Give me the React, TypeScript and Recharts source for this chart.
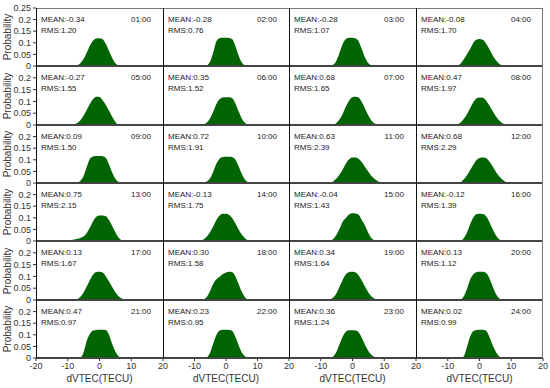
import React from "react";
import { AreaChart, Area, XAxis, YAxis } from "recharts";

// dVTEC bin centres (TECU) shared by all 24 hourly histograms
const dvtecBins = [-10, -9, -8, -7, -6, -5, -4, -3, -2, -1, 0, 1, 2, 3, 4, 5, 6, 7, 8, 9, 10];

const hourLabels = [
  "01:00", "02:00", "03:00", "04:00", "05:00", "06:00", "07:00", "08:00",
  "09:00", "10:00", "11:00", "12:00", "13:00", "14:00", "15:00", "16:00",
  "17:00", "18:00", "19:00", "20:00", "21:00", "22:00", "23:00", "24:00",
];

const meanValues = [
  -0.34, -0.28, -0.28, -0.08, -0.27, 0.35, 0.68, 0.47,
  0.09, 0.72, 0.63, 0.68, 0.75, -0.13, -0.04, -0.12,
  0.13, 0.3, 0.34, 0.13, 0.47, 0.23, 0.36, 0.02,
];

const rmsValues = [
  1.2, 0.76, 1.07, 1.7, 1.55, 1.52, 1.65, 1.97,
  1.5, 1.91, 2.39, 2.29, 2.15, 1.75, 1.43, 1.39,
  1.67, 1.58, 1.64, 1.12, 0.97, 0.95, 1.24, 0.99,
];

// probability per bin, one row per hour
const probabilities = [
  [0, 0, 0, 0.003, 0.012, 0.03, 0.058, 0.088, 0.11, 0.119, 0.12, 0.115, 0.095, 0.065, 0.035, 0.012, 0.002, 0, 0, 0, 0],
  [0, 0, 0, 0, 0.003, 0.02, 0.06, 0.108, 0.12, 0.122, 0.122, 0.121, 0.115, 0.085, 0.045, 0.015, 0.003, 0, 0, 0, 0],
  [0, 0, 0, 0.001, 0.006, 0.025, 0.06, 0.098, 0.117, 0.122, 0.122, 0.118, 0.105, 0.07, 0.035, 0.012, 0.003, 0, 0, 0, 0],
  [0, 0, 0, 0.002, 0.01, 0.028, 0.05, 0.072, 0.098, 0.113, 0.116, 0.113, 0.098, 0.075, 0.05, 0.028, 0.012, 0.003, 0, 0, 0],
  [0, 0, 0.002, 0.008, 0.02, 0.04, 0.065, 0.09, 0.11, 0.12, 0.119, 0.105, 0.085, 0.06, 0.035, 0.013, 0.002, 0, 0, 0, 0],
  [0, 0, 0, 0.003, 0.012, 0.03, 0.058, 0.09, 0.11, 0.117, 0.118, 0.118, 0.113, 0.09, 0.058, 0.028, 0.01, 0.002, 0, 0, 0],
  [0, 0, 0, 0, 0.002, 0.01, 0.025, 0.05, 0.08, 0.105, 0.118, 0.12, 0.115, 0.095, 0.068, 0.04, 0.018, 0.006, 0.001, 0, 0],
  [0, 0, 0, 0.003, 0.01, 0.025, 0.045, 0.07, 0.095, 0.112, 0.117, 0.115, 0.105, 0.085, 0.062, 0.04, 0.022, 0.01, 0.003, 0, 0],
  [0, 0, 0, 0.002, 0.01, 0.03, 0.07, 0.105, 0.114, 0.116, 0.116, 0.115, 0.108, 0.08, 0.045, 0.018, 0.004, 0, 0, 0, 0],
  [0, 0, 0, 0.002, 0.008, 0.022, 0.05, 0.085, 0.105, 0.112, 0.113, 0.113, 0.111, 0.1, 0.072, 0.04, 0.015, 0.003, 0, 0, 0],
  [0, 0, 0, 0.001, 0.008, 0.02, 0.038, 0.06, 0.085, 0.103, 0.11, 0.11, 0.103, 0.088, 0.068, 0.048, 0.03, 0.017, 0.008, 0.002, 0],
  [0, 0, 0, 0, 0.003, 0.015, 0.032, 0.055, 0.078, 0.098, 0.108, 0.11, 0.108, 0.095, 0.075, 0.052, 0.032, 0.017, 0.007, 0.002, 0],
  [0, 0.003, 0.006, 0.01, 0.013, 0.02, 0.035, 0.058, 0.085, 0.104, 0.11, 0.11, 0.107, 0.09, 0.065, 0.038, 0.015, 0.003, 0, 0, 0],
  [0, 0, 0.002, 0.008, 0.02, 0.04, 0.065, 0.092, 0.11, 0.117, 0.117, 0.112, 0.098, 0.075, 0.05, 0.028, 0.012, 0.003, 0, 0, 0],
  [0, 0, 0, 0.002, 0.01, 0.028, 0.055, 0.085, 0.1, 0.115, 0.12, 0.118, 0.112, 0.088, 0.065, 0.035, 0.012, 0.003, 0, 0, 0],
  [0, 0, 0, 0, 0.001, 0.012, 0.035, 0.07, 0.1, 0.115, 0.117, 0.116, 0.108, 0.085, 0.055, 0.028, 0.01, 0.002, 0, 0, 0],
  [0, 0, 0, 0.004, 0.014, 0.032, 0.058, 0.085, 0.108, 0.119, 0.12, 0.116, 0.1, 0.078, 0.055, 0.033, 0.016, 0.006, 0.001, 0, 0],
  [0, 0, 0, 0.004, 0.015, 0.04, 0.07, 0.088, 0.098, 0.11, 0.117, 0.12, 0.118, 0.1, 0.068, 0.035, 0.012, 0.002, 0, 0, 0],
  [0, 0, 0, 0.003, 0.012, 0.03, 0.058, 0.088, 0.11, 0.119, 0.12, 0.117, 0.103, 0.08, 0.055, 0.032, 0.015, 0.005, 0.001, 0, 0],
  [0, 0, 0, 0, 0.002, 0.015, 0.045, 0.085, 0.108, 0.118, 0.12, 0.12, 0.115, 0.095, 0.062, 0.03, 0.01, 0.002, 0, 0, 0],
  [0, 0, 0, 0, 0.002, 0.025, 0.075, 0.105, 0.118, 0.121, 0.122, 0.122, 0.121, 0.1, 0.06, 0.028, 0.008, 0.001, 0, 0, 0],
  [0, 0, 0, 0, 0.004, 0.025, 0.065, 0.1, 0.118, 0.122, 0.122, 0.121, 0.116, 0.09, 0.055, 0.025, 0.008, 0.001, 0, 0, 0],
  [0, 0, 0, 0.001, 0.008, 0.028, 0.062, 0.095, 0.114, 0.12, 0.12, 0.119, 0.11, 0.085, 0.055, 0.03, 0.013, 0.004, 0.001, 0, 0],
  [0, 0, 0, 0, 0, 0.006, 0.045, 0.09, 0.115, 0.121, 0.122, 0.122, 0.118, 0.095, 0.06, 0.03, 0.01, 0.002, 0, 0, 0],
];

const xTicksFirst = [-20, -10, 0, 10, 20];
const xTicksRest = [-10, 0, 10, 20];
const yTicksTop = [0, 0.05, 0.1, 0.15, 0.2, 0.25];
const yTicksRest = [0, 0.05, 0.1, 0.15, 0.2];

const COL_X = [36, 163, 289, 416, 543];
const ROW_Y = [8, 66, 125, 183, 241, 300, 358];
const GREEN = "#006400";
const FONT = "'Liberation Sans', Arial, sans-serif";
const PAD = 6;
const X_AXIS_H = 16;

function Panel({ idx }: { idx: number }) {
  const r = Math.floor(idx / 4);
  const c = idx % 4;
  const plotW = COL_X[c + 1] - COL_X[c];
  const plotH = ROW_Y[r + 1] - ROW_Y[r];
  const yW = c === 0 ? 36 : 0;
  const bottom = r === 5;
  const data = dvtecBins.map((x, i) => ({ x, p: probabilities[idx][i] }));
  const tickStyle = { fontSize: 9, fill: "#333", fontFamily: FONT };

  return (
    <div style={{ position: "absolute", left: COL_X[c] - yW, top: ROW_Y[r] - PAD }}>
      <AreaChart
        width={yW + plotW + 8}
        height={PAD + plotH + (bottom ? X_AXIS_H : PAD)}
        data={data}
        margin={{ top: PAD, right: 8, bottom: bottom ? 0 : PAD, left: 0 }}
      >
        <XAxis
          dataKey="x"
          type="number"
          domain={[-20, 20]}
          ticks={c === 0 ? xTicksFirst : xTicksRest}
          interval={0}
          hide={!bottom}
          height={X_AXIS_H}
          axisLine={false}
          tickLine={{ stroke: "#333" }}
          tickSize={3}
          tick={tickStyle}
        />
        <YAxis
          type="number"
          domain={[0, 0.25]}
          ticks={r === 0 ? yTicksTop : yTicksRest}
          tickFormatter={(v: number) => (r > 0 && v > 0.2 ? "" : String(v))}
          interval={0}
          hide={c !== 0}
          width={yW}
          axisLine={false}
          tickLine={{ stroke: "#333" }}
          tickSize={3}
          tick={tickStyle}
        />
        <Area
          type="monotone"
          dataKey="p"
          stroke="none"
          fill={GREEN}
          fillOpacity={1}
          isAnimationActive={false}
        />
      </AreaChart>
      <div
        style={{
          position: "absolute",
          left: yW + 5,
          top: PAD + 6,
          fontSize: 8,
          lineHeight: "11px",
          color: "#222",
          whiteSpace: "nowrap",
        }}
      >
        <div>MEAN:{meanValues[idx].toFixed(2)}</div>
        <div>RMS:{rmsValues[idx].toFixed(2)}</div>
      </div>
      <div
        style={{
          position: "absolute",
          left: yW,
          width: plotW - 12,
          top: PAD + 6,
          textAlign: "right",
          fontSize: 8,
          lineHeight: "11px",
          color: "#222",
        }}
      >
        {hourLabels[idx]}
      </div>
    </div>
  );
}

export default function App() {
  const left = COL_X[0];
  const right = COL_X[4];
  const top = ROW_Y[0];
  const bottom = ROW_Y[6];
  return (
    <div
      style={{
        position: "fixed",
        left: 0,
        top: 0,
        width: 550,
        height: 388,
        background: "#fff",
        fontFamily: FONT,
        overflow: "hidden",
      }}
    >
      {hourLabels.map((_, i) => (
        <Panel key={i} idx={i} />
      ))}

      {/* frame: top edge, row baselines, column dividers */}
      <div style={{ position: "absolute", left, top, width: right - left, height: 1, background: "#777" }} />
      {ROW_Y.slice(1).map((y) => (
        <div key={"h" + y} style={{ position: "absolute", left, top: y - 1, width: right - left, height: 2, background: "#444" }} />
      ))}
      {COL_X.map((x, i) => (
        <div
          key={"v" + x}
          style={{
            position: "absolute",
            left: x - (i === 4 ? 1 : 0),
            top,
            width: 1,
            height: bottom - top,
            background: i === 4 ? "#777" : "#111",
          }}
        />
      ))}

      {ROW_Y.slice(0, 6).map((y, r) => (
        <div
          key={"yl" + r}
          style={{
            position: "absolute",
            left: 7,
            top: (y + ROW_Y[r + 1]) / 2,
            transform: "translate(-50%, -50%) rotate(-90deg)",
            fontSize: 10,
            color: "#333",
            whiteSpace: "nowrap",
          }}
        >
          Probability
        </div>
      ))}
      {COL_X.slice(0, 4).map((x, c) => (
        <div
          key={"xl" + c}
          style={{
            position: "absolute",
            left: x,
            width: COL_X[c + 1] - x,
            top: 373,
            textAlign: "center",
            fontSize: 10,
            lineHeight: "12px",
            color: "#333",
          }}
        >
          dVTEC(TECU)
        </div>
      ))}
    </div>
  );
}
